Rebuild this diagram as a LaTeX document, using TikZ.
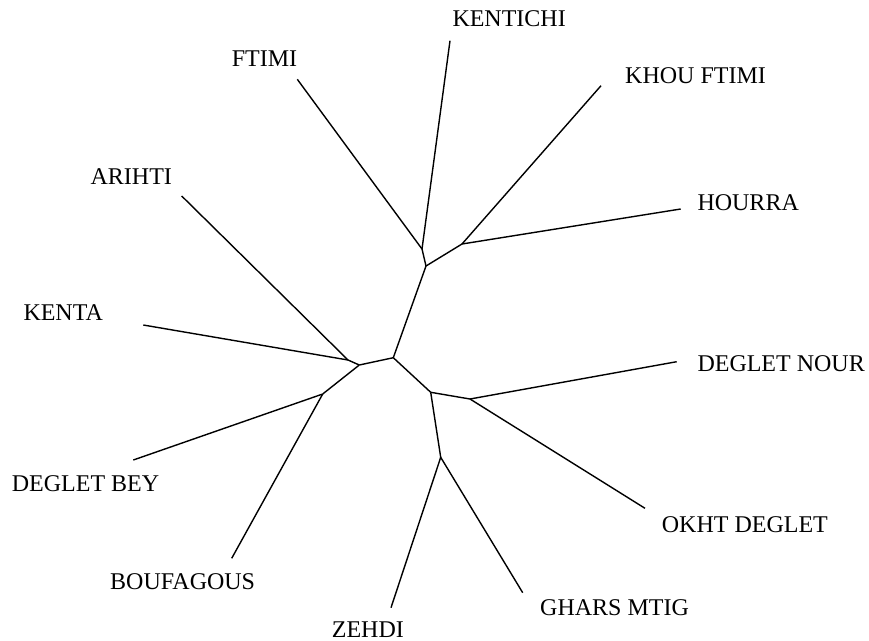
\documentclass[tikz,border=0pt]{standalone}
\usepackage{fontspec}
\setmainfont{Liberation Serif}
\begin{document}
\begin{tikzpicture}[x=1pt,y=-1pt,
  branch/.style={line width=1.4pt,black},
  taxon/.style={anchor=base west,inner sep=0pt,font=\fontsize{24}{28}\selectfont}]
\useasboundingbox (0,0) rectangle (869,640);
% internal nodes
\coordinate (r) at (393.3,357.7);
\coordinate (u) at (426,266);
\coordinate (uf) at (422,249);
\coordinate (uk) at (462,244);
\coordinate (l) at (359.3,365);
\coordinate (la) at (348,360);
\coordinate (lb) at (322.7,394);
\coordinate (d) at (430.7,392.3);
\coordinate (dn) at (470,399);
\coordinate (dz) at (440.7,457.3);
% leaf ends
\coordinate (eFTIMI) at (297.3,79.3);
\coordinate (eKENTICHI) at (450,40.7);
\coordinate (eKHOU) at (601,85.7);
\coordinate (eHOURRA) at (680.7,209);
\coordinate (eDN) at (676.7,361.7);
\coordinate (eOKHT) at (645,508.3);
\coordinate (eGHARS) at (522.7,592.7);
\coordinate (eZEHDI) at (391,607.7);
\coordinate (eBOUF) at (231.7,558.3);
\coordinate (eDBEY) at (133.3,460);
\coordinate (eKENTA) at (143.3,325);
\coordinate (eARIHTI) at (181.7,196);
% labels
\node[taxon] (tFTIMI) at (231.7,66) {FTIMI};
\node[taxon] (tKENTICHI) at (452.3,26.7) {KENTICHI};
\node[taxon] (tKHOU) at (625,83.3) {KHOU FTIMI};
\node[taxon] (tHOURRA) at (697.3,210) {HOURRA};
\node[taxon] (tDN) at (697.3,371.7) {DEGLET NOUR};
\node[taxon] (tOKHT) at (661.7,532) {OKHT DEGLET};
\node[taxon] (tGHARS) at (540,615) {GHARS MTIG};
\node[taxon] (tZEHDI) at (331.7,637) {ZEHDI};
\node[taxon] (tBOUF) at (110,589.3) {BOUFAGOUS};
\node[taxon] (tDBEY) at (11.7,491.7) {DEGLET BEY};
\node[taxon] (tKENTA) at (23.3,320) {KENTA};
\node[taxon] (tARIHTI) at (90.4,184) {ARIHTI};
% branches
\draw[branch] (r) -- (u);
\draw[branch] (u) -- (uf);
\draw[branch] (u) -- (uk);
\draw[branch] (uf) -- (eFTIMI);
\draw[branch] (uf) -- (eKENTICHI);
\draw[branch] (uk) -- (eKHOU);
\draw[branch] (uk) -- (eHOURRA);
\draw[branch] (r) -- (l);
\draw[branch] (l) -- (la);
\draw[branch] (la) -- (eARIHTI);
\draw[branch] (la) -- (eKENTA);
\draw[branch] (l) -- (lb);
\draw[branch] (lb) -- (eDBEY);
\draw[branch] (lb) -- (eBOUF);
\draw[branch] (r) -- (d);
\draw[branch] (d) -- (dn);
\draw[branch] (dn) -- (eDN);
\draw[branch] (dn) -- (eOKHT);
\draw[branch] (d) -- (dz);
\draw[branch] (dz) -- (eZEHDI);
\draw[branch] (dz) -- (eGHARS);
\end{tikzpicture}
\end{document}
